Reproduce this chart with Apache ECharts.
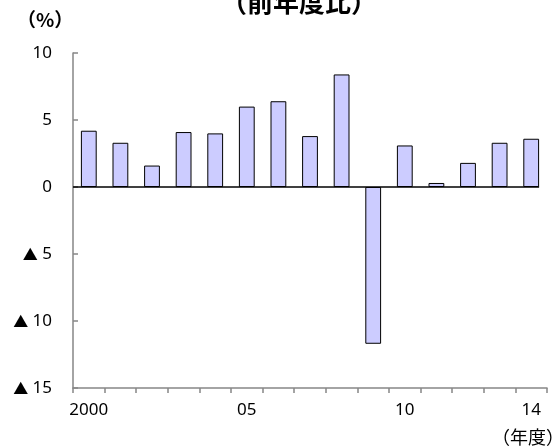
<!DOCTYPE html>
<html>
<head>
<meta charset="utf-8">
<script src="https://cdn.jsdelivr.net/npm/echarts@6/dist/echarts.min.js"></script>
<style>
  html, body { margin: 0; padding: 0; background: #ffffff; }
  #chart { width: 555px; height: 448px; }
</style>
</head>
<body>
<div id="chart"></div>
<script>
// Fiscal years 2000-2014, year-on-year change (%)
const years = ['2000', '01', '02', '03', '04', '05', '06', '07', '08', '09', '10', '11', '12', '13', '14'];
const growth = [4.2, 3.3, 1.6, 4.1, 4.0, 6.0, 6.4, 3.8, 8.4, -11.7, 3.1, 0.3, 1.8, 3.3, 3.6];
const shownYearLabels = [0, 5, 10, 14];

const numFont = '"Noto Sans", "Noto Sans CJK JP", sans-serif';
const cjkFont = '"Noto Sans CJK JP", sans-serif';
const axisGray = '#868686';

const chart = echarts.init(document.getElementById('chart'), null, { renderer: 'canvas' });

chart.setOption({
  animation: false,
  backgroundColor: '#ffffff',
  grid: { left: 73, right: 8, top: 53, bottom: 60, containLabel: false },
  xAxis: {
    type: 'category',
    data: years,
    boundaryGap: true,
    axisLine: { onZero: false, lineStyle: { color: axisGray, width: 1.5 } },
    axisTick: { show: true, interval: 0, length: 5, lineStyle: { color: axisGray, width: 1.5 } },
    axisLabel: {
      interval: (i) => shownYearLabels.indexOf(i) !== -1,
      color: '#000',
      fontFamily: numFont,
      fontSize: 17,
      margin: 14
    },
    splitLine: { show: false }
  },
  yAxis: {
    type: 'value',
    min: -15,
    max: 10,
    interval: 5,
    axisLine: { show: true, lineStyle: { color: axisGray, width: 1.5 } },
    axisTick: { show: true, inside: true, length: 5, lineStyle: { color: axisGray, width: 1.5 } },
    axisLabel: {
      color: '#000',
      fontFamily: numFont,
      fontSize: 17,
      margin: 21,
      rich: {
        tri: { fontFamily: cjkFont, fontSize: 15, color: '#000' },
        n: { fontFamily: numFont, fontSize: 17, color: '#000' }
      },
      formatter: (v) => (v < 0 ? '{tri|▲} {n|' + (-v) + '}' : '{n|' + v + '}')
    },
    splitLine: { show: false }
  },
  series: [{
    type: 'bar',
    data: growth,
    barWidth: '50%',
    z: 2,
    itemStyle: { color: '#ccccff', borderColor: '#000000', borderWidth: 1 }
  }],
  graphic: [
    {
      type: 'text',
      left: 221,
      top: -11,
      style: { text: '（前年度比）', font: 'bold 26px ' + cjkFont, fill: '#000' }
    },
    {
      type: 'text',
      left: 17,
      top: 10,
      style: { text: '（%）', font: 'bold 19px ' + cjkFont, fill: '#000' }
    },
    {
      type: 'text',
      left: 492,
      top: 428,
      style: { text: '（年度）', font: '18px ' + cjkFont, fill: '#000' }
    }
  ]
});

// Zero baseline: from the value axis to the right edge of the last bar
const origin = chart.convertToPixel({ seriesIndex: 0 }, [0, 0]);
const lastCenter = chart.convertToPixel({ seriesIndex: 0 }, [years.length - 1, 0]);
const band = chart.convertToPixel({ seriesIndex: 0 }, [1, 0])[0] - origin[0];
const gridLeft = chart.convertToPixel({ seriesIndex: 0 }, [0, 0])[0] - band / 2;
chart.setOption({
  graphic: [{
    id: 'zero-line',
    type: 'line',
    z: 100,
    shape: { x1: gridLeft, y1: origin[1], x2: lastCenter[0] + band / 4, y2: origin[1] },
    style: { stroke: '#000000', lineWidth: 1.5 }
  }]
});
</script>
</body>
</html>
